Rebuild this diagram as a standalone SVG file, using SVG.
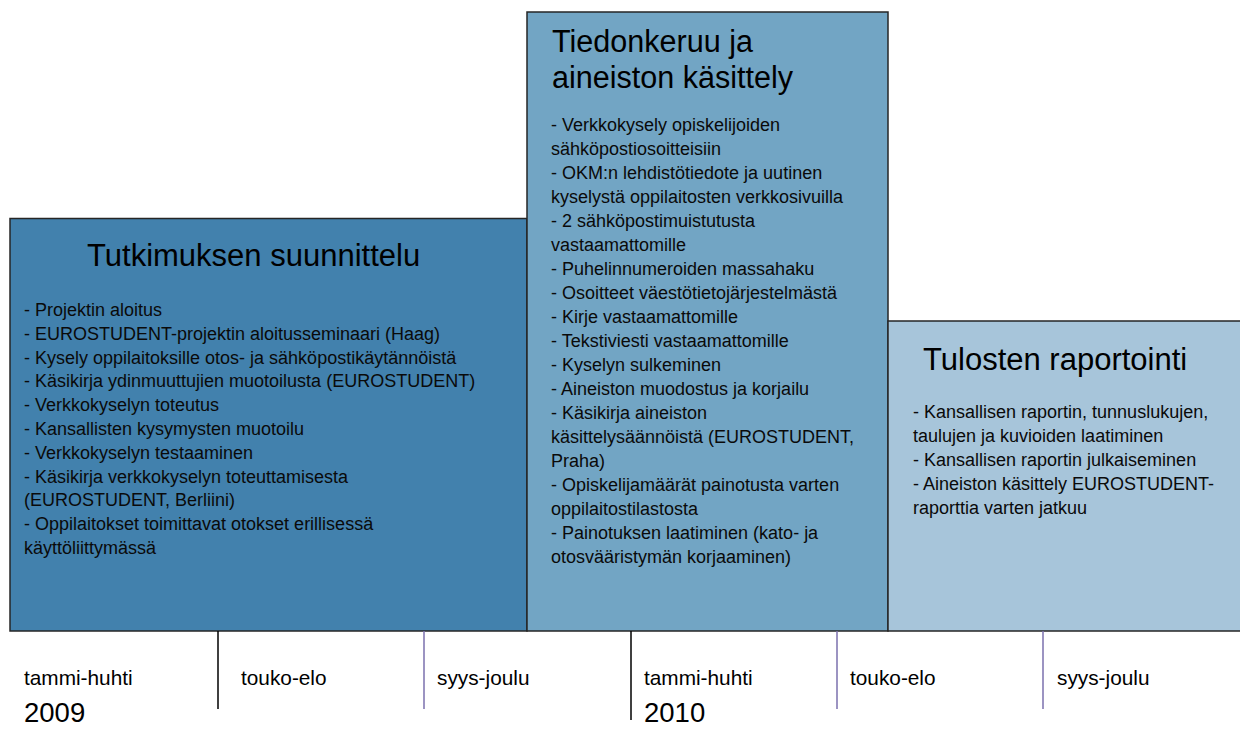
<svg xmlns="http://www.w3.org/2000/svg" width="1240" height="729" viewBox="0 0 1240 729">
<style>
.box{stroke:#262626;stroke-width:1.5}
.title{font-family:"Liberation Sans",Arial,sans-serif;font-size:31px;fill:#000}
.body{font-family:"Liberation Sans",Arial,sans-serif;font-size:18px;fill:#0a0a0a}
.lbl{font-family:"Liberation Sans",Arial,sans-serif;font-size:20.8px;fill:#000}
.year{font-family:"Liberation Sans",Arial,sans-serif;font-size:27.5px;fill:#000}
.tk{stroke:#000;stroke-width:1.5}
.tp{stroke:#7b70ae;stroke-width:1.5}
</style>
<rect width="1240" height="729" fill="#ffffff"/>
<g id="node-suunnittelu">
<rect class="box" x="10" y="218.5" width="517" height="412.5" fill="#4281ad"/>
<text class="title" x="87" y="266">Tutkimuksen suunnittelu</text>
<text class="body" x="24" y="316">
<tspan x="24">- Projektin aloitus</tspan>
<tspan x="24" dy="23.8">- EUROSTUDENT-projektin aloitusseminaari (Haag)</tspan>
<tspan x="24" dy="23.8">- Kysely oppilaitoksille otos- ja sähköpostikäytännöistä</tspan>
<tspan x="24" dy="23.8">- Käsikirja ydinmuuttujien muotoilusta (EUROSTUDENT)</tspan>
<tspan x="24" dy="23.8">- Verkkokyselyn toteutus</tspan>
<tspan x="24" dy="23.8">- Kansallisten kysymysten muotoilu</tspan>
<tspan x="24" dy="23.8">- Verkkokyselyn testaaminen</tspan>
<tspan x="24" dy="23.8">- Käsikirja verkkokyselyn toteuttamisesta</tspan>
<tspan x="24" dy="23.8">(EUROSTUDENT, Berliini)</tspan>
<tspan x="24" dy="23.8">- Oppilaitokset toimittavat otokset erillisessä</tspan>
<tspan x="24" dy="23.8">käyttöliittymässä</tspan>
</text>
</g>
<g id="node-tiedonkeruu">
<rect class="box" x="527" y="12" width="361" height="619" fill="#72a5c4"/>
<text class="title" x="552" y="52" font-size="34" textLength="201" lengthAdjust="spacingAndGlyphs">Tiedonkeruu ja</text>
<text class="title" x="552" y="88" font-size="34" textLength="241" lengthAdjust="spacingAndGlyphs">aineiston käsittely</text>
<text class="body" x="551" y="131">
<tspan x="551">- Verkkokysely opiskelijoiden</tspan>
<tspan x="551" dy="24">sähköpostiosoitteisiin</tspan>
<tspan x="551" dy="24">- OKM:n lehdistötiedote ja uutinen</tspan>
<tspan x="551" dy="24">kyselystä oppilaitosten verkkosivuilla</tspan>
<tspan x="551" dy="24">- 2 sähköpostimuistutusta</tspan>
<tspan x="551" dy="24">vastaamattomille</tspan>
<tspan x="551" dy="24">- Puhelinnumeroiden massahaku</tspan>
<tspan x="551" dy="24">- Osoitteet väestötietojärjestelmästä</tspan>
<tspan x="551" dy="24">- Kirje vastaamattomille</tspan>
<tspan x="551" dy="24">- Tekstiviesti vastaamattomille</tspan>
<tspan x="551" dy="24">- Kyselyn sulkeminen</tspan>
<tspan x="551" dy="24">- Aineiston muodostus ja korjailu</tspan>
<tspan x="551" dy="24">- Käsikirja aineiston</tspan>
<tspan x="551" dy="24">käsittelysäännöistä (EUROSTUDENT,</tspan>
<tspan x="551" dy="24">Praha)</tspan>
<tspan x="551" dy="24">- Opiskelijamäärät painotusta varten</tspan>
<tspan x="551" dy="24">oppilaitostilastosta</tspan>
<tspan x="551" dy="24">- Painotuksen laatiminen (kato- ja</tspan>
<tspan x="551" dy="24">otosvääristymän korjaaminen)</tspan>
</text>
</g>
<g id="node-raportointi">
<rect class="box" x="888" y="321" width="360" height="310" fill="#a7c5da"/>
<text class="title" x="923" y="370">Tulosten raportointi</text>
<text class="body" x="913" y="418">
<tspan x="913">- Kansallisen raportin, tunnuslukujen,</tspan>
<tspan x="913" dy="24">taulujen ja kuvioiden laatiminen</tspan>
<tspan x="913" dy="24">- Kansallisen raportin julkaiseminen</tspan>
<tspan x="913" dy="24">- Aineiston käsittely EUROSTUDENT-</tspan>
<tspan x="913" dy="24">raporttia varten jatkuu</tspan>
</text>
</g>
<g id="connectors">
<line class="tk" x1="218" y1="631" x2="218" y2="709"/>
<line class="tp" x1="424" y1="631" x2="424" y2="709"/>
<line class="tk" x1="631" y1="631" x2="631" y2="720"/>
<line class="tp" x1="837" y1="631" x2="837" y2="709"/>
<line class="tp" x1="1043" y1="631" x2="1043" y2="709"/>
</g>
<g id="timeline-labels">
<text class="lbl" x="24" y="685">tammi-huhti</text>
<text class="lbl" x="241" y="685">touko-elo</text>
<text class="lbl" x="437" y="685">syys-joulu</text>
<text class="lbl" x="644" y="685">tammi-huhti</text>
<text class="lbl" x="850" y="685">touko-elo</text>
<text class="lbl" x="1057" y="685">syys-joulu</text>
<text class="year" x="24" y="722">2009</text>
<text class="year" x="644" y="722">2010</text>
</g>
</svg>
